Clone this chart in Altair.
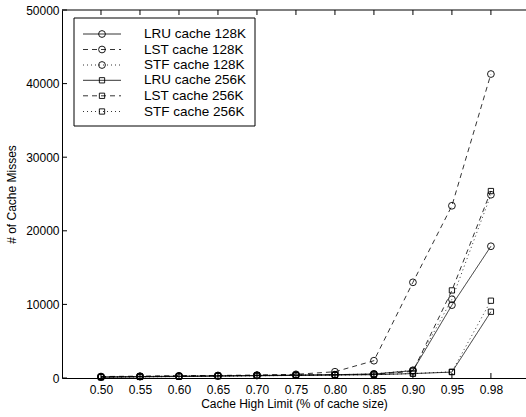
import altair as alt
import pandas as pd

# Cache high limit settings (categorical, evenly spaced along the axis)
limit_labels = ["0.50", "0.55", "0.60", "0.65", "0.70", "0.75",
                "0.80", "0.85", "0.90", "0.95", "0.98"]
positions = list(range(1, len(limit_labels) + 1))

series_names = ["LRU cache 128K", "LST cache 128K", "STF cache 128K",
                "LRU cache 256K", "LST cache 256K", "STF cache 256K"]

lru_128 = [150, 200, 250, 300, 350, 400, 450, 550, 1000, 9900, 17900]
lst_128 = [200, 250, 300, 350, 400, 500, 850, 2350, 13000, 23400, 41300]
stf_128 = [150, 200, 250, 300, 350, 400, 450, 550, 1050, 10700, 24900]
lru_256 = [100, 150, 200, 250, 300, 350, 400, 450, 600, 800, 9000]
lst_256 = [150, 200, 250, 300, 350, 400, 450, 500, 900, 11900, 25400]
stf_256 = [100, 150, 200, 250, 300, 350, 400, 450, 600, 850, 10500]

series_values = [lru_128, lst_128, stf_128, lru_256, lst_256, stf_256]
y_ticks = [0, 10000, 20000, 30000, 40000, 50000]

W, H = 464, 368
FONT = "Liberation Sans"

rows = []
for name, vals in zip(series_names, series_values):
    for p, v in zip(positions, vals):
        rows.append({"pos": p, "misses": v, "series": name,
                     "cache": name.split()[-1]})
df = pd.DataFrame(rows)

dash_range = [[1, 0], [5, 4], [1, 3], [1, 0], [5, 4], [1, 3]]
dash_scale = alt.Scale(domain=series_names, range=dash_range)
shape_scale = alt.Scale(domain=["128K", "256K"], range=["circle", "square"])
size_scale = alt.Scale(domain=["128K", "256K"], range=[46, 28])

xscale = alt.Scale(domain=[0, 11.9], nice=False, zero=False)
yscale = alt.Scale(domain=[0, 50000], nice=False)

label_array = "[" + ",".join(f"'{s}'" for s in limit_labels) + "]"
xaxis = alt.Axis(values=positions, labelExpr=f"{label_array}[datum.value - 1]",
                 ticks=False, grid=False, domainColor="black", domainWidth=1.2,
                 labelFontSize=12, labelPadding=6, labelColor="black",
                 labelFont=FONT, title="Cache High Limit (% of cache size)",
                 titleFontSize=12, titleFontWeight="normal", titleFont=FONT,
                 titlePadding=3, titleColor="black")
yaxis = alt.Axis(values=y_ticks, format="d", ticks=False, grid=False,
                 domainColor="black", domainWidth=1, labelFontSize=12,
                 labelPadding=3, labelColor="black", labelFont=FONT,
                 title="# of Cache Misses", titleFontSize=12,
                 titleFontWeight="normal", titleFont=FONT, titlePadding=7,
                 titleColor="black")

base = alt.Chart(df)
lines = base.mark_line(color="black", strokeWidth=0.8).encode(
    x=alt.X("pos:Q", scale=xscale, axis=xaxis),
    y=alt.Y("misses:Q", scale=yscale, axis=yaxis),
    strokeDash=alt.StrokeDash("series:N", scale=dash_scale, legend=None),
    detail="series:N",
)
points = base.mark_point(filled=False, color="black", strokeWidth=0.9, opacity=1).encode(
    x=alt.X("pos:Q", scale=xscale),
    y=alt.Y("misses:Q", scale=yscale),
    shape=alt.Shape("cache:N", scale=shape_scale, legend=None),
    size=alt.Size("cache:O", scale=size_scale, legend=None),
)

# inward tick marks on the bottom, top and left edges of the frame
xt = pd.DataFrame({"pos": positions})
yt = pd.DataFrame({"misses": y_ticks})
xticks_bottom = alt.Chart(xt).mark_rule(color="black", strokeWidth=1).encode(
    x=alt.X("pos:Q", scale=xscale), y=alt.value(H), y2=alt.value(H - 5))
xticks_top = alt.Chart(xt).mark_rule(color="black", strokeWidth=1).encode(
    x=alt.X("pos:Q", scale=xscale), y=alt.value(0), y2=alt.value(5))
yticks_left = alt.Chart(yt).mark_rule(color="black", strokeWidth=1).encode(
    y=alt.Y("misses:Q", scale=yscale), x=alt.value(0), x2=alt.value(5))
top_edge = alt.Chart(pd.DataFrame({"misses": [50000]})).mark_rule(
    color="black", strokeWidth=1).encode(
    y=alt.Y("misses:Q", scale=yscale), x=alt.value(0), x2=alt.value(W))

main = alt.layer(lines, points, xticks_bottom, xticks_top, yticks_left, top_edge)

# legend box drawn as its own layer group
leg_rows = [24, 39.5, 55, 70.3, 85.8, 101.5]
leg = pd.DataFrame({"series": series_names,
                    "cache": [n.split()[-1] for n in series_names],
                    "ly": leg_rows})
leg_box = alt.Chart(pd.DataFrame({"a": [0]})).mark_rect(
    fill="white", stroke="black", strokeWidth=1).encode(
    x=alt.value(12), x2=alt.value(193), y=alt.value(8), y2=alt.value(116))
leg_lines = alt.Chart(leg).mark_rule(color="black", strokeWidth=0.8).encode(
    y=alt.Y("ly:Q", scale=None, axis=None),
    x=alt.value(21), x2=alt.value(59),
    strokeDash=alt.StrokeDash("series:N", scale=dash_scale, legend=None),
)
leg_marks = alt.Chart(leg).mark_point(filled=False, color="black", strokeWidth=0.9,
                                      opacity=1).encode(
    y=alt.Y("ly:Q", scale=None, axis=None),
    x=alt.value(40),
    shape=alt.Shape("cache:N", scale=shape_scale, legend=None),
    size=alt.Size("cache:O", scale=size_scale, legend=None),
)
leg_text = alt.Chart(leg).mark_text(align="left", baseline="middle", fontSize=13.5,
                                    font=FONT, color="black").encode(
    y=alt.Y("ly:Q", scale=None, axis=None),
    x=alt.value(82),
    text="series:N",
)
legend = alt.layer(leg_box, leg_lines, leg_marks, leg_text)

chart = alt.layer(main, legend).resolve_scale(
    x="independent", y="independent", strokeDash="independent",
    shape="independent", size="independent",
).properties(
    width=W, height=H, autosize="none",
    padding={"left": 62, "top": 10, "right": 0, "bottom": 39},
    background="white",
).configure_view(stroke=None)

chart.save("out.html", embed_options={"renderer": "svg", "actions": False})
